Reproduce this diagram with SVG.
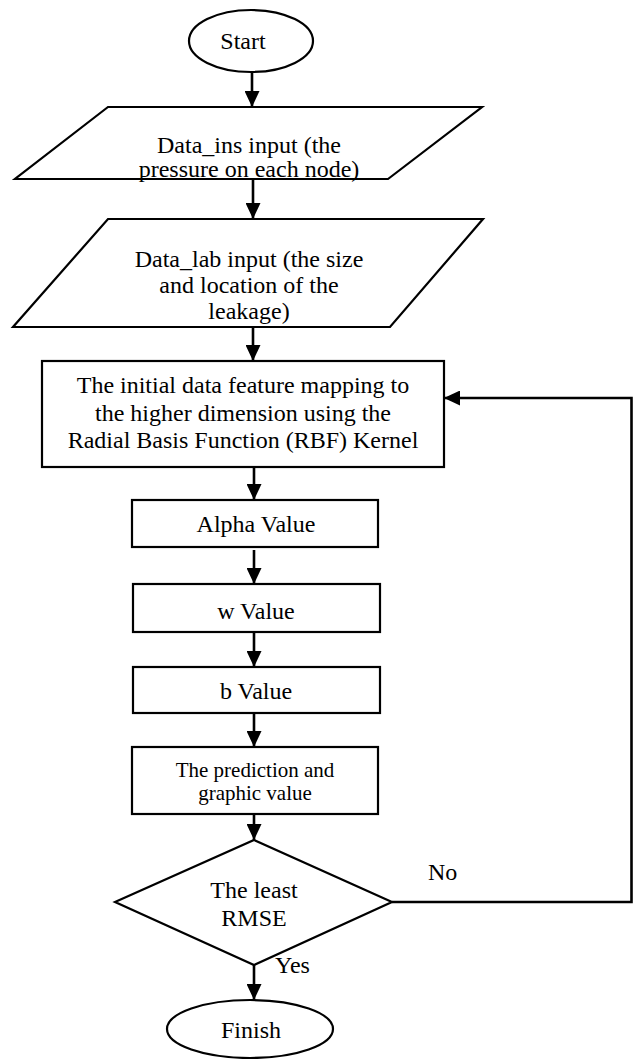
<svg xmlns="http://www.w3.org/2000/svg" width="633" height="1059" viewBox="0 0 633 1059">
<style>
.shape{fill:#ffffff;stroke:#000000;stroke-width:2.2}
.conn{fill:none;stroke:#000000;stroke-width:2.6}
.t{font-family:"Liberation Serif","Times New Roman",serif;font-size:24px;fill:#000000;text-anchor:middle}
.s{font-size:21px}
.l{text-anchor:start}
</style>
<defs>
<marker id="arrow" markerUnits="userSpaceOnUse" markerWidth="16" markerHeight="15" refX="16" refY="7.5" orient="auto">
<path d="M0,0 L16,7.5 L0,15 z" fill="#000000"/>
</marker>
</defs>
<rect width="633" height="1059" fill="#ffffff"/>
<g id="connectors">
<line class="conn" x1="252" y1="72" x2="252" y2="107" marker-end="url(#arrow)"/>
<line class="conn" x1="253" y1="179" x2="253" y2="219" marker-end="url(#arrow)"/>
<line class="conn" x1="253" y1="327" x2="253" y2="361" marker-end="url(#arrow)"/>
<line class="conn" x1="254" y1="467" x2="254" y2="500" marker-end="url(#arrow)"/>
<line class="conn" x1="254" y1="550" x2="254" y2="584" marker-end="url(#arrow)"/>
<line class="conn" x1="254" y1="632" x2="254" y2="667" marker-end="url(#arrow)"/>
<line class="conn" x1="254" y1="713" x2="254" y2="747" marker-end="url(#arrow)"/>
<line class="conn" x1="254" y1="814" x2="254" y2="840" marker-end="url(#arrow)"/>
<line class="conn" x1="254" y1="965" x2="254" y2="1000" marker-end="url(#arrow)"/>
<polyline class="conn" points="392,902 631.5,902 631.5,398 444,398" marker-end="url(#arrow)"/>
<text class="t l" x="428" y="880">No</text>
<text class="t l" x="275" y="973">Yes</text>
</g>
<g id="start">
<ellipse class="shape" cx="251" cy="41" rx="62" ry="31"/>
<text class="t" x="243" y="49">Start</text>
</g>
<g id="data-ins">
<polygon class="shape" points="108,107 482,107 388,179 15,179"/>
<text class="t" x="249" y="153">Data_ins input (the</text>
<text class="t" x="249" y="177">pressure on each node)</text>
</g>
<g id="data-lab">
<polygon class="shape" points="108,219 483,219 390,327 13,327"/>
<text class="t" x="249" y="267">Data_lab input (the size</text>
<text class="t" x="249" y="293">and location of the</text>
<text class="t" x="249" y="319">leakage)</text>
</g>
<g id="rbf">
<rect class="shape" x="42" y="361" width="402" height="106"/>
<text class="t" x="243" y="393">The initial data feature mapping to</text>
<text class="t" x="243" y="421">the higher dimension using the</text>
<text class="t" x="243" y="448">Radial Basis Function (RBF) Kernel</text>
</g>
<g id="alpha">
<rect class="shape" x="132" y="500" width="246" height="47"/>
<text class="t" x="256" y="532">Alpha Value</text>
</g>
<g id="w">
<rect class="shape" x="133" y="584" width="247" height="48"/>
<text class="t" x="256" y="619">w Value</text>
</g>
<g id="b">
<rect class="shape" x="133" y="667" width="247" height="46"/>
<text class="t" x="256" y="699">b Value</text>
</g>
<g id="prediction">
<rect class="shape" x="132" y="747" width="246" height="67"/>
<text class="t s" x="255" y="777">The prediction and</text>
<text class="t s" x="255" y="800">graphic value</text>
</g>
<g id="decision">
<polygon class="shape" points="254,840 392,902 254,965 115,902"/>
<text class="t" x="254" y="898">The least</text>
<text class="t" x="254" y="926">RMSE</text>
</g>
<g id="finish">
<ellipse class="shape" cx="250" cy="1029" rx="83" ry="29"/>
<text class="t" x="251" y="1038">Finish</text>
</g>
</svg>
